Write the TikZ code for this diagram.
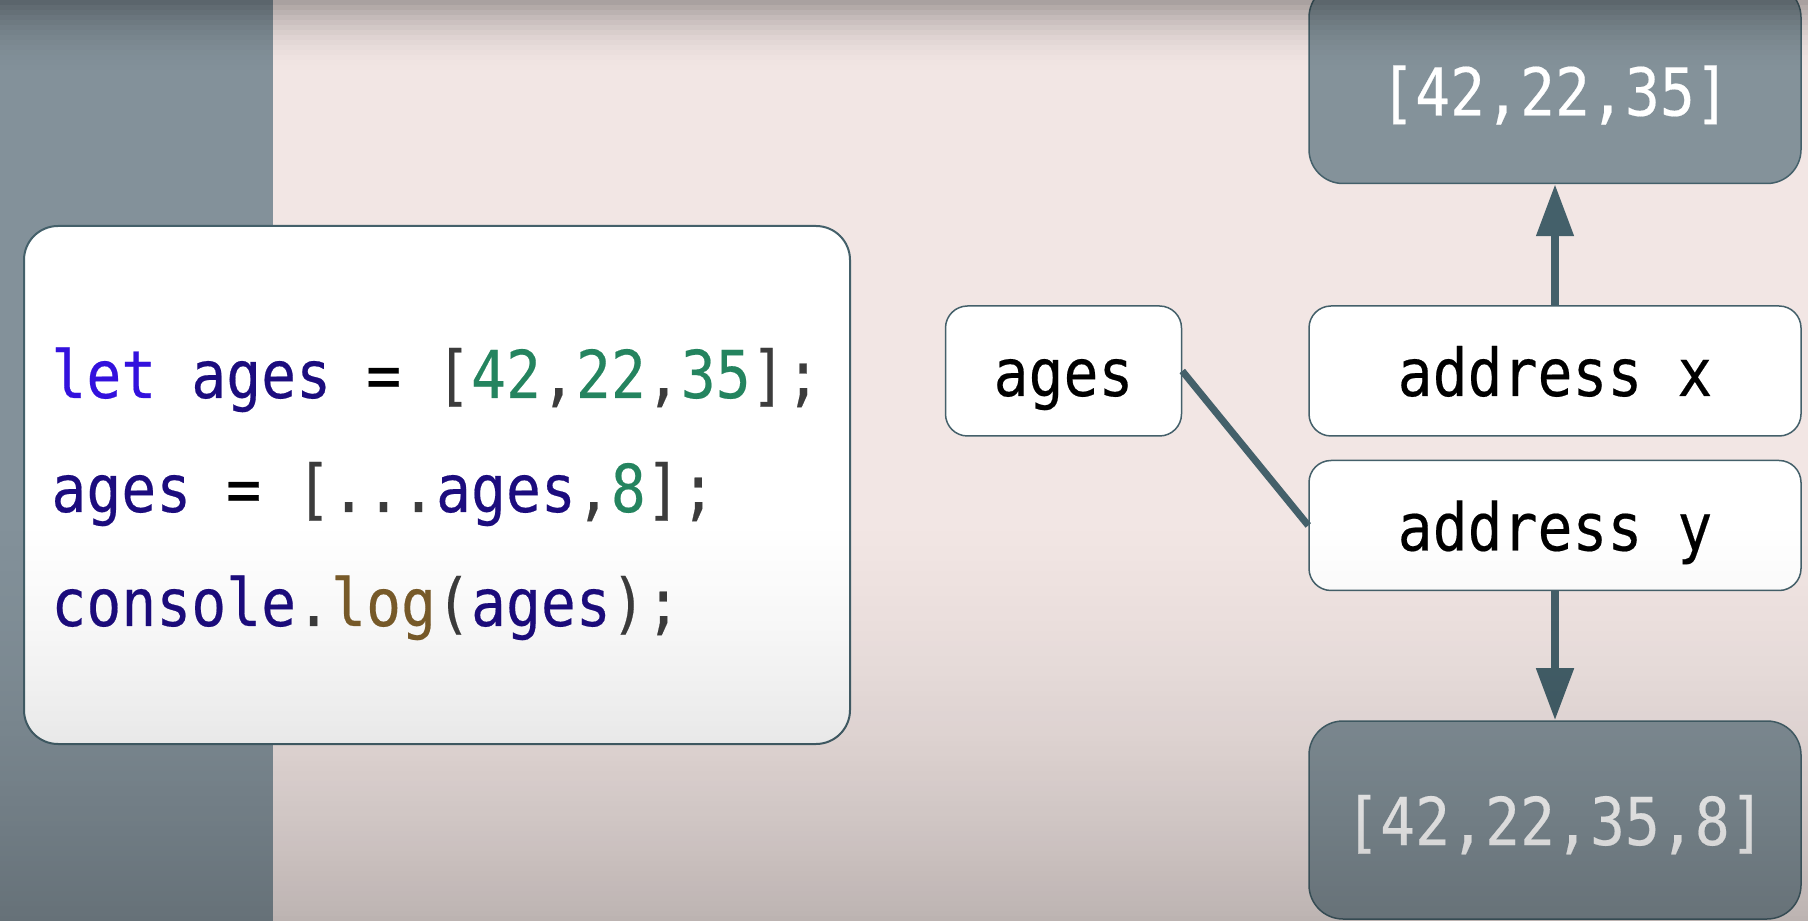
\documentclass[tikz,border=0pt]{standalone}
\usepackage{fontspec}
\setmonofont[FakeStretch=0.88,FakeBold=0.3]{DejaVu Sans Mono}
\usetikzlibrary{positioning,arrows.meta}

\definecolor{bgpink}{HTML}{F2E6E4}
\definecolor{panelgray}{HTML}{83919A}
\definecolor{heapgray}{HTML}{84929A}
\definecolor{edgecol}{HTML}{44606A}
\definecolor{kwblue}{HTML}{3311DD}
\definecolor{idnavy}{HTML}{1C0C7E}
\definecolor{numgreen}{HTML}{24845F}
\definecolor{fnbrown}{HTML}{7A5C2A}
\definecolor{pungray}{HTML}{3C3C3C}

% token colours of the code listing
\newcommand{\jkw}[1]{\textcolor{kwblue}{#1}}
\newcommand{\jid}[1]{\textcolor{idnavy}{#1}}
\newcommand{\jnum}[1]{\textcolor{numgreen}{#1}}
\newcommand{\jfn}[1]{\textcolor{fnbrown}{#1}}
\newcommand{\jpun}[1]{\textcolor{pungray}{#1}}

\begin{document}
\begin{tikzpicture}[
    x=0.5pt, y=0.5pt,
    codefont/.style={font={\ttfamily\fontsize{33}{40}\selectfont}},
    codebox/.style={draw=edgecol, line width=1pt, fill=white, rounded corners=17pt,
      minimum width=413pt, minimum height=259pt},
    cell/.style={draw=edgecol, line width=0.75pt, fill=white, rounded corners=11pt,
      minimum height=65pt, inner sep=0pt, codefont, text height=25pt, text depth=0pt},
    heap/.style={cell, fill=heapgray, text=white, rounded corners=17pt, minimum width=246pt},
    link/.style={draw=edgecol, line width=3.5pt},
    ptr/.style={link, line width=4pt, -{Triangle[length=26pt,width=18pt]}}
  ]
    \useasboundingbox (0,0) rectangle (1808,921);
    \fill[bgpink] (0,0) rectangle (1808,921);
    \fill[panelgray] (0,0) rectangle (273,921);

    % the code
    \node[codebox] (code) at (437,436) {};
    \node[codefont, anchor=base west, inner sep=0pt] (line1) at (51,523)
      {\jkw{let} \jid{ages} = \jpun{[}\jnum{42}\jpun{,}\jnum{22}\jpun{,}\jnum{35}\jpun{];}};
    \node[codefont, anchor=base west, inner sep=0pt] (line2) at (51,409)
      {\jid{ages} = \jpun{[...}\jid{ages}\jpun{,}\jnum{8}\jpun{];}};
    \node[codefont, anchor=base west, inner sep=0pt] (line3) at (51,295)
      {\jid{console}\jpun{.}\jfn{log}\jpun{(}\jid{ages}\jpun{);}};

    % variable, addresses and arrays
    \node[cell, minimum width=118pt] (ages) at (1063.5,550) {ages};
    \node[cell, minimum width=246pt] (addrx) at (1555,550) {address x};
    \node[cell, minimum width=246pt, below=11.5pt of addrx] (addry) {address y};
    \node[heap, minimum height=100pt, text height=32pt, above=60.5pt of addrx] (oldarr) {[42,22,35]};
    \node[heap, minimum height=99pt, below=64.5pt of addry] (newarr) {[42,22,35,8]};

    \draw[link] (ages.east) -- (addry.west);
    \draw[ptr] (addrx.north) -- (oldarr.south);
    \draw[ptr] (addry.south) -- (newarr.north);

    % darken top and bottom edges
    \foreach \i in {0,...,14} {
      \pgfmathsetmacro\u{1-(\i*5+2.5)/75}
      \pgfmathsetmacro\op{0.32*\u*\u}
      \fill[black, fill opacity=\op] (0,{921-\i*5}) rectangle (1808,{916-\i*5});
    }
    \foreach \i in {0,...,79} {
      \pgfmathsetmacro\t{(\i*5+2.5)/400}
      \pgfmathsetmacro\op{0.22*(0.4*\t+0.6*\t*\t)}
      \fill[black, fill opacity=\op] (0,{400-\i*5}) rectangle (1808,{395-\i*5});
    }
\end{tikzpicture}
\end{document}
